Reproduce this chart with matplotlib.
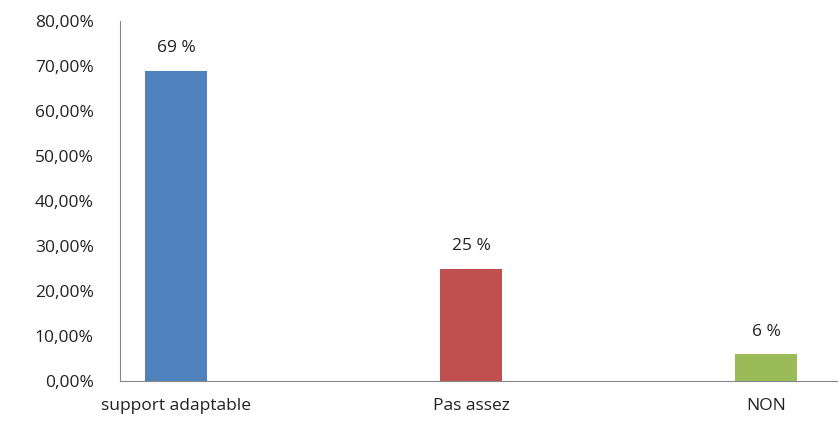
import matplotlib
matplotlib.use('Agg')
import matplotlib.pyplot as plt
from matplotlib.ticker import FuncFormatter

# data
categories = ['support adaptable', 'Pas assez', 'NON']
values = [69, 25, 6]
bar_labels = ['69 %', '25 %', '6 %']
colors = ['#4F81BD', '#C0504D', '#9BBB59']

plt.rcParams['font.family'] = ['Open Sans', 'DejaVu Sans']

fig = plt.figure(figsize=(8.39, 4.30), dpi=100)
ax = fig.add_axes([0.143, 0.114, 0.855, 0.837])

x = list(range(len(categories)))
bars = ax.bar(x, values, width=0.21, color=colors)

for b, lab in zip(bars, bar_labels):
    ax.text(b.get_x() + b.get_width() / 2, b.get_height() + 3.2, lab,
            ha='center', va='bottom', fontsize=12.5, color='#222222')

ax.set_xlim(-0.19, 2.24)
ax.set_ylim(0, 80)
ax.set_yticks(range(0, 81, 10))
ax.yaxis.set_major_formatter(FuncFormatter(lambda v, p: f'{v:.2f}%'.replace('.', ',')))
ax.set_xticks(x)
ax.set_xticklabels(categories)

for s in ['top', 'right']:
    ax.spines[s].set_visible(False)
ax.spines['left'].set_color('#868686')
ax.spines['bottom'].set_color('#868686')
ax.tick_params(axis='both', length=0, labelsize=12.5, labelcolor='#222222')
ax.tick_params(axis='y', pad=19)
ax.tick_params(axis='x', pad=12)

fig.savefig('out.png', dpi=100)
